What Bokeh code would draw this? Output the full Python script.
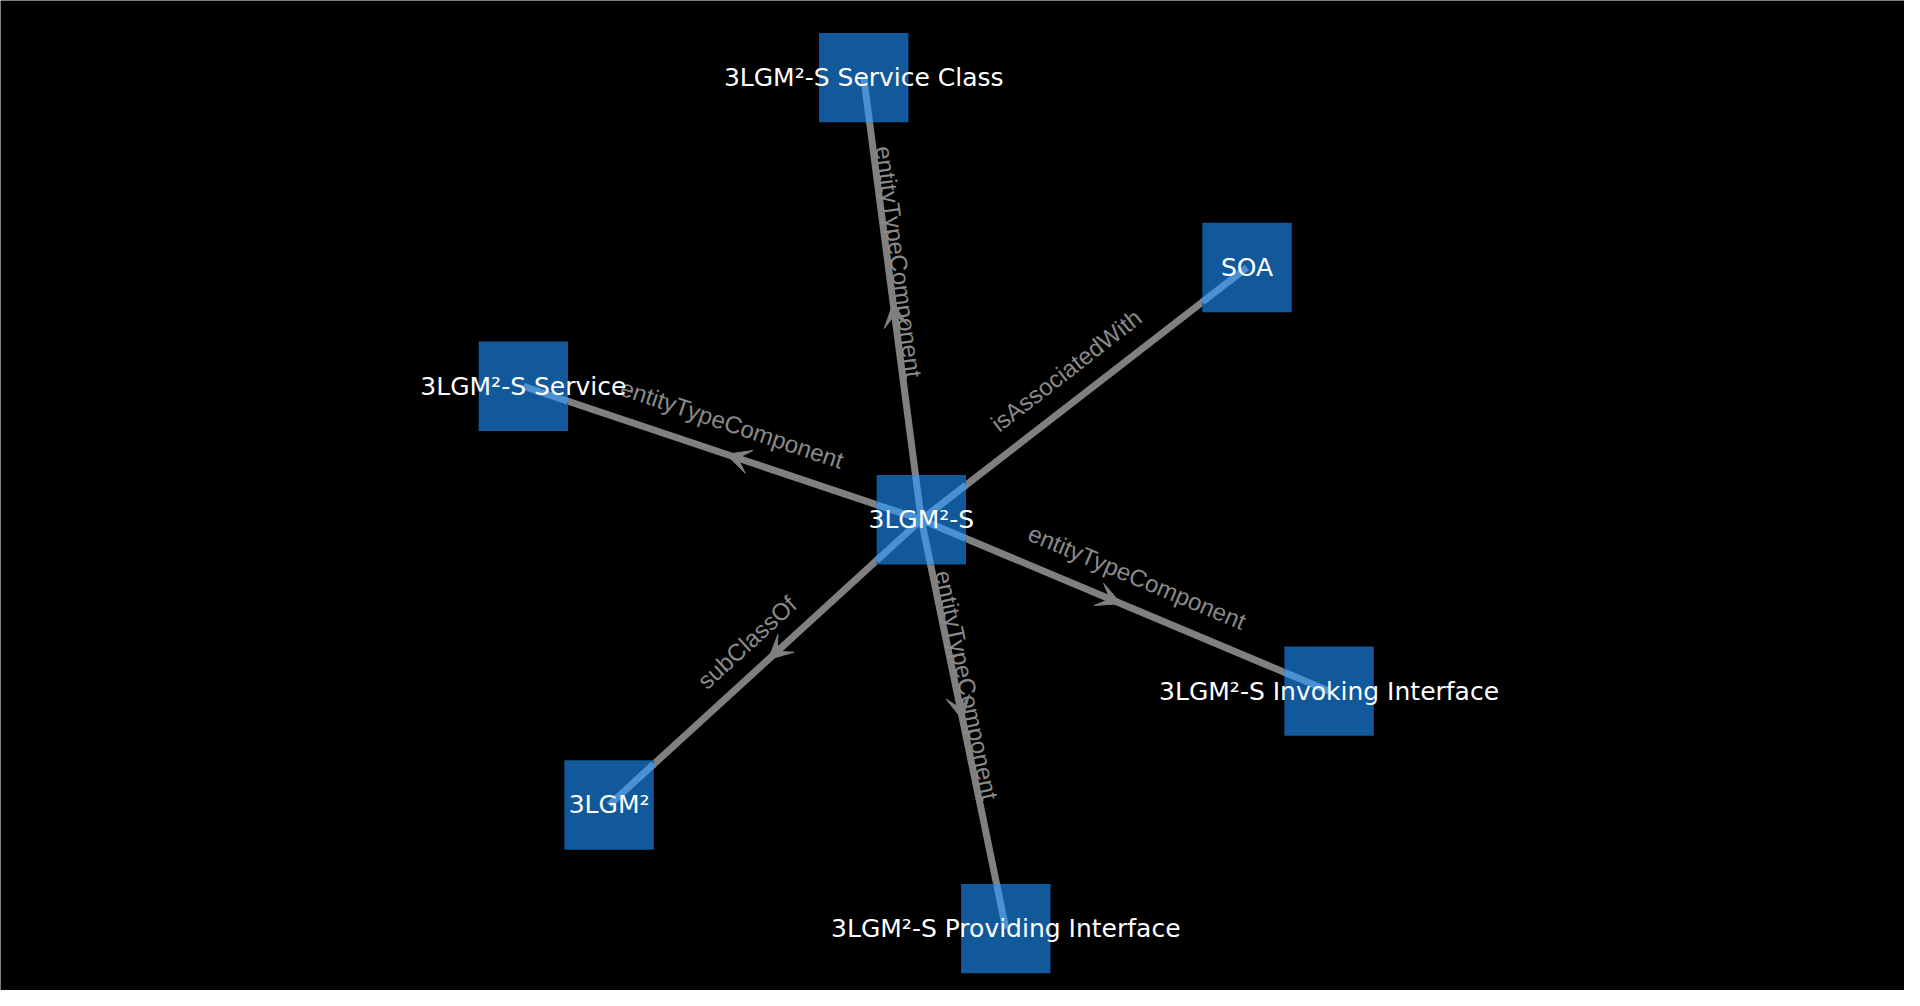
import numpy as np
from bokeh.plotting import figure
from bokeh.models import Range1d, Arrow, VeeHead
from bokeh.core.properties import value
from bokeh.embed import file_html
from bokeh.resources import INLINE

# node positions (pixel units of a 1568-wide view)
node_names = ["3LGM²-S", "3LGM²-S Service Class", "SOA", "3LGM²-S Service",
              "3LGM²-S Invoking Interface", "3LGM²", "3LGM²-S Providing Interface"]
node_x = [752, 705, 1018, 427, 1085, 497, 821]
node_y = [424, 63, 218, 315, 564, 657, 758]

# edges all start at the centre node
edge_target = [1, 2, 3, 4, 5, 6]
edge_label = ["entityTypeComponent", "isAssociatedWith", "entityTypeComponent",
              "entityTypeComponent", "subClassOf", "entityTypeComponent"]
edge_arrow = [True, False, True, True, True, True]
label_t = [0.58, 0.5, 0.5, 0.5, 0.5, 0.41]
label_off = [9, 24, 25, 25, 22, 9]

S = 1920 / 1568
W, H = 1904, 990
x0 = 0
p = figure(width=W, height=H, output_backend="svg", toolbar_location=None,
           x_range=Range1d(x0, x0 + W / S), y_range=Range1d(-(x0 + H / S), -x0),
           background_fill_color="black", border_fill_color="black", min_border=0)
p.axis.visible = False
p.grid.visible = False
p.outline_line_color = None

nx = np.array(node_x, float)
ny = -np.array(node_y, float)
cx, cy = nx[0], ny[0]
tx, ty = nx[edge_target], ny[edge_target]

p.segment(x0=[cx] * len(tx), y0=[cy] * len(tx), x1=tx, y1=ty,
          line_color="#808080", line_width=7)

for i, t in enumerate(edge_target):
    if edge_arrow[i]:
        dx, dy = tx[i] - cx, ty[i] - cy
        p.add_layout(Arrow(end=VeeHead(size=24, fill_color="#808080", line_color="#808080"),
                           x_start=cx + 0.42 * dx, y_start=cy + 0.42 * dy,
                           x_end=cx + 0.49 * dx, y_end=cy + 0.49 * dy,
                           line_alpha=0))

half = 36.5
p.rect(x=nx, y=ny, width=2 * half, height=2 * half, fill_color="#11599b", line_color=None)

# lighter segments where edges cross the squares
sx0, sy0, sx1, sy1 = [], [], [], []
for i in range(len(tx)):
    dx, dy = tx[i] - cx, ty[i] - cy
    L = np.hypot(dx, dy)
    ux, uy = dx / L, dy / L
    r = half / max(abs(ux), abs(uy))
    sx0 += [cx, tx[i]]
    sy0 += [cy, ty[i]]
    sx1 += [cx + ux * r, tx[i] - ux * r]
    sy1 += [cy + uy * r, ty[i] - uy * r]
p.segment(x0=sx0, y0=sy0, x1=sx1, y1=sy1, line_color="#4a90d4", line_width=7)

# edge labels along the edges
lx, ly, la = [], [], []
for i in range(len(tx)):
    dx, dy = tx[i] - cx, ty[i] - cy
    a = np.arctan2(dy, dx)
    if dx < 0:
        a = np.arctan2(-dy, -dx)
    px, py = cx + label_t[i] * dx, cy + label_t[i] * dy
    lx.append(px - np.sin(a) * label_off[i])
    ly.append(py + np.cos(a) * label_off[i])
    la.append(a)
p.text(x=lx, y=ly, text=edge_label, angle=la, text_color="#8a8a8a",
       text_font=value("Liberation Sans"), text_font_size="24px",
       text_align="center", text_baseline="middle")

p.text(x=nx, y=ny, text=node_names, text_color="white",
       text_font=value("DejaVu Sans"), text_font_size="25px",
       text_align="center", text_baseline="middle")

open("out.html", "w").write(file_html(p, INLINE))
